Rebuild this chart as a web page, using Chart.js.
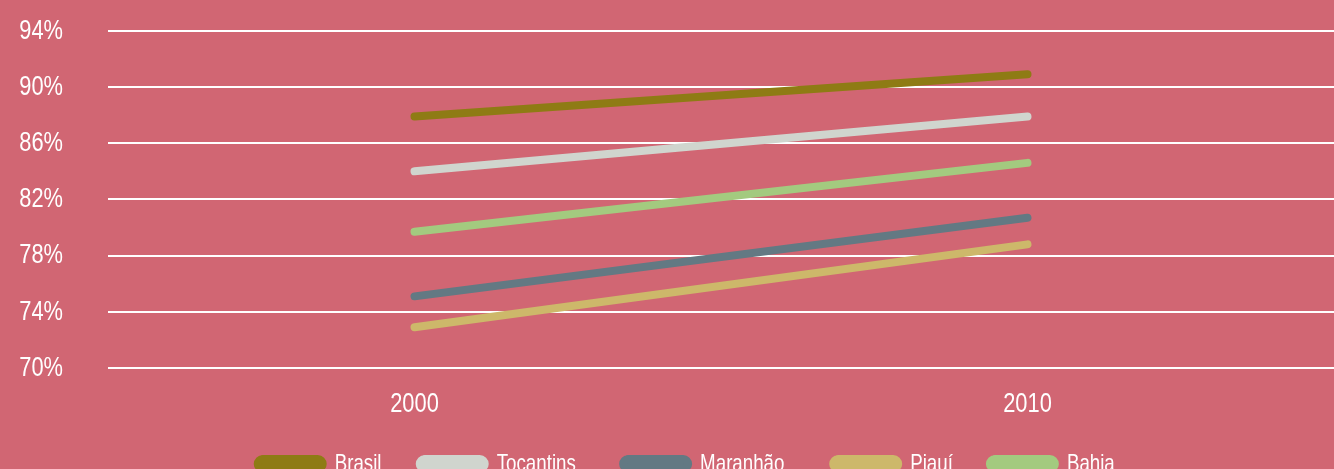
<!DOCTYPE html>
<html>
<head>
<meta charset="utf-8">
<script src="https://cdn.jsdelivr.net/npm/chart.js@4/dist/chart.umd.min.js"></script>
<style>
  html, body { margin: 0; padding: 0; background: #D16673; overflow: hidden; }
  #wrap { position: relative; top: -31px; width: 1334px; height: 517px; }
</style>
</head>
<body>
<div id="wrap"><canvas id="chart"></canvas></div>
<script>
const years = ["2000", "2010"];
const brasil = [87.9, 90.9];
const tocantins = [84.0, 87.9];
const maranhao = [75.1, 80.7];
const piaui = [72.9, 78.8];
const bahia = [79.7, 84.6];

const yTicks = [70, 74, 78, 82, 86, 90, 94];

const fontFamily = "'Liberation Sans', sans-serif";
const narrow = 0.78; // no condensed face installed, so squeeze the text horizontally

function series(label, data, color) {
  return {
    label,
    data,
    borderColor: color,
    backgroundColor: color,
    borderWidth: 8,
    borderCapStyle: "round",
    pointRadius: 0,
    tension: 0,
    fill: false,
  };
}

const canvas = document.getElementById("chart");
const ctx = canvas.getContext("2d");

const plainFillText = ctx.fillText.bind(ctx);
ctx.fillText = function (text, x, y, maxWidth) {
  ctx.save();
  ctx.translate(x, 0);
  ctx.scale(narrow, 1);
  plainFillText(text, 0, y);
  ctx.restore();
};

// legend in the original sits a little right of centre
const legendShift = {
  id: "legendShift",
  afterLayout(chart) {
    chart.legend.left += 52;
  },
};

new Chart(ctx, {
  type: "line",
  data: {
    labels: years,
    datasets: [
      series("Brasil", brasil, "#8E7B14"),
      series("Tocantins", tocantins, "#D0D5CE"),
      series("Maranhão", maranhao, "#637983"),
      series("Piauí", piaui, "#CDB86A"),
      series("Bahia", bahia, "#A3CA7F"),
    ],
  },
  options: {
    responsive: true,
    maintainAspectRatio: false,
    animation: false,
    layout: { padding: 0 },
    plugins: {
      tooltip: { enabled: false },
      legend: {
        position: "bottom",
        labels: {
          color: "#ffffff",
          font: { family: fontFamily, size: 24 },
          boxWidth: 65,
          boxHeight: 10,
          useBorderRadius: true,
          borderRadius: 5,
          padding: 25,
        },
      },
    },
    scales: {
      x: {
        offset: true,
        grid: { display: false },
        border: { display: false },
        ticks: {
          color: "#ffffff",
          font: { family: fontFamily, size: 28 },
          padding: 11,
        },
        afterFit(scale) { scale.height = 59; },
      },
      y: {
        min: 70,
        max: 94,
        afterBuildTicks(scale) { scale.ticks = yTicks.map((v) => ({ value: v })); },
        grid: { color: "#ffffff", lineWidth: 2, drawTicks: false },
        border: { display: false },
        ticks: {
          color: "#ffffff",
          font: { family: fontFamily, size: 28 },
          padding: 45,
          callback: (v) => v + "%",
        },
        afterFit(scale) { scale.width = 108; },
      },
    },
  },
  plugins: [legendShift],
});
</script>
</body>
</html>
